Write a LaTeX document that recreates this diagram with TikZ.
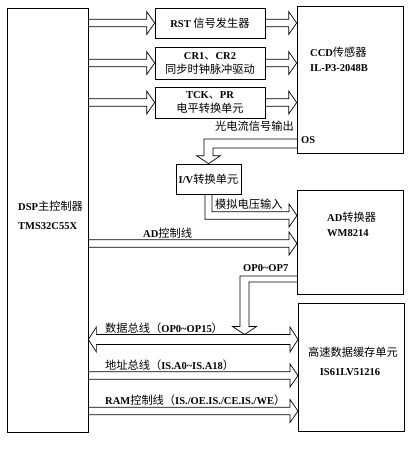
\documentclass[tikz,border=0pt]{standalone}
\usepackage{fontspec}
\setmainfont{Liberation Serif}
\newfontfamily\cjk[Scale=1.07]{Noto Sans CJK SC}
\usetikzlibrary{calc}
\newcommand{\zh}[1]{{\cjk\mdseries #1}}
% hollow arrow pointing right, x from #1, y and tip from #2
\newcommand{\rarrow}[2]{\draw[barr] let \p1=(#1),\p2=(#2) in (\x1,\y2+3.8pt) -- (\x2-8pt,\y2+3.8pt) -- (\x2-8pt,\y2+11.5pt) -- (\x2,\y2) -- (\x2-8pt,\y2-11.5pt) -- (\x2-8pt,\y2-3.8pt) -- (\x1,\y2-3.8pt);}
\tikzset{box/.style={draw,line width=.7pt,inner sep=0pt,align=center},
 barr/.style={line width=.7pt,line join=miter},
 lbl/.style={inner sep=0pt,anchor=base west}}

\begin{document}
\begin{tikzpicture}[x=1pt,y=-1pt,font=\fontsize{10.5}{13}\selectfont\bfseries]
\useasboundingbox (0,0) rectangle (413,450);
% blocks
\node[box,minimum width=81pt,minimum height=424pt] (dsp) at (47.5,220) {};
\node[box,minimum width=110pt,minimum height=30pt] (rst) at (210,23) {RST \zh{信号发生器}};
\node[box,minimum width=110pt,minimum height=32pt] (cr) at (210,63) {CR1\zh{、}CR2\\[1pt]\zh{同步时钟脉冲驱动}};
\node[box,minimum width=110pt,minimum height=31pt] (tck) at (210,102.5) {TCK\zh{、}PR\\[1pt]\zh{电平转换单元}};
\node[box,minimum width=106pt,minimum height=147pt] (ccd) at (350,79.5) {};
\node[box,minimum width=65pt,minimum height=30pt] (iv) at (208.5,179) {I/V\zh{转换单元}};
\node[box,minimum width=106pt,minimum height=104pt] (ad) at (350,242) {};
\node[box,minimum width=106pt,minimum height=128pt] (mem) at (351,367) {};
% texts in the big blocks
\node[lbl] (dsp1) at (18,210) {DSP\zh{主控制器}};
\node[lbl] (dsp2) at (18,229.5) {TMS32C55X};
\node[lbl] (ccd1) at (310,56) {CCD\zh{传感器}};
\node[lbl] (ccd2) at (310,71.5) {IL-P3-2048B};
\node[lbl] (ad1) at (327,221) {AD\zh{转换器}};
\node[lbl] (ad2) at (327,236.5) {WM8214};
\node[lbl,anchor=base] (mem1) at (353,356) {\zh{高速数据缓存单元}};
\node[lbl,anchor=base] (mem2) at (350,375.5) {IS61LV51216};
% end points on the block edges
\coordinate (os) at (297,143.5);
\coordinate (adin) at (297,215.5);
\coordinate (adctl) at (297,243.5);
\coordinate (opout) at (297,279);
\coordinate (optip) at (244.5,334.5);
\coordinate (dbus) at (298,339.5);
\coordinate (abus) at (298,375.5);
\coordinate (rbus) at (298,411);
% arrows
\rarrow{dsp.east}{rst.west}
\rarrow{dsp.east}{cr.west}
\rarrow{dsp.east}{tck.west}
\rarrow{rst.east}{rst.east -| ccd.west}
\rarrow{cr.east}{cr.east -| ccd.west}
\rarrow{tck.east}{tck.east -| ccd.west}
\draw[barr] let \p1=(os),\p2=(iv.north) in (\x1,\y1+4.5pt) -- (\x2-4.5pt,\y1+4.5pt) -- (\x2-4.5pt,\y2+8pt) -- (\x2-12pt,\y2+8pt) -- (\x2,\y2) -- (\x2+12pt,\y2+8pt) -- (\x2+4.5pt,\y2+8pt) -- (\x2+4.5pt,\y1-4.5pt) -- (\x1,\y1-4.5pt);
\draw[barr] let \p1=(iv.south),\p2=(adin) in (\x1-3.5pt,\y1) -- (\x1-3.5pt,\y2-3.7pt) -- (\x2-8pt,\y2-3.7pt) -- (\x2-8pt,\y2-11.5pt) -- (\x2,\y2) -- (\x2-8pt,\y2+11.5pt) -- (\x2-8pt,\y2+3.7pt) -- (\x1+3.5pt,\y2+3.7pt) -- (\x1+3.5pt,\y1);
\rarrow{dsp.east}{adctl}
\draw[barr] let \p1=(opout),\p2=(optip) in (\x1,\y1+3pt) -- (\x2-4.5pt,\y1+3pt) -- (\x2-4.5pt,\y2+8pt) -- (\x2-12pt,\y2+8pt) -- (\x2,\y2) -- (\x2+12pt,\y2+8pt) -- (\x2+4.5pt,\y2+8pt) -- (\x2+4.5pt,\y1-3pt) -- (\x1,\y1-3pt);
\draw[barr] let \p1=(dsp.east),\p2=(dbus) in (\x1,\y2) -- (\x1+8pt,\y2+12.5pt) -- (\x1+8pt,\y2+5pt) -- (\x2-8pt,\y2+5pt) -- (\x2-8pt,\y2+12.5pt) -- (\x2,\y2) -- (\x2-8pt,\y2-12.5pt) -- (\x2-8pt,\y2-5pt) -- (\x1+8pt,\y2-5pt) -- (\x1+8pt,\y2-12.5pt) -- cycle;
\rarrow{dsp.east}{abus}
\rarrow{dsp.east}{rbus}
% connector labels
\node[lbl] (ostxt) at (301,143.5) {OS};
\node[lbl] (pdout) at (215,130) {\zh{光电流信号输出}};
\node[lbl] (vin) at (215,208) {\zh{模拟电压输入}};
\node[lbl] (adctltxt) at (143,237.5) {AD\zh{控制线}};
\node[lbl] (optxt) at (243,271.5) {OP0\textasciitilde OP7};
\node[lbl] (dbtxt) at (105,332) {\zh{数据总线（}OP0\textasciitilde OP15\zh{）}};
\node[lbl] (abtxt) at (105,369) {\zh{地址总线（}IS.A0\textasciitilde IS.A18\zh{）}};
\node[lbl] (rbtxt) at (105,404.5) {RAM\zh{控制线（}IS./OE.IS./CE.IS./WE\zh{）}};
\end{tikzpicture}
\end{document}
